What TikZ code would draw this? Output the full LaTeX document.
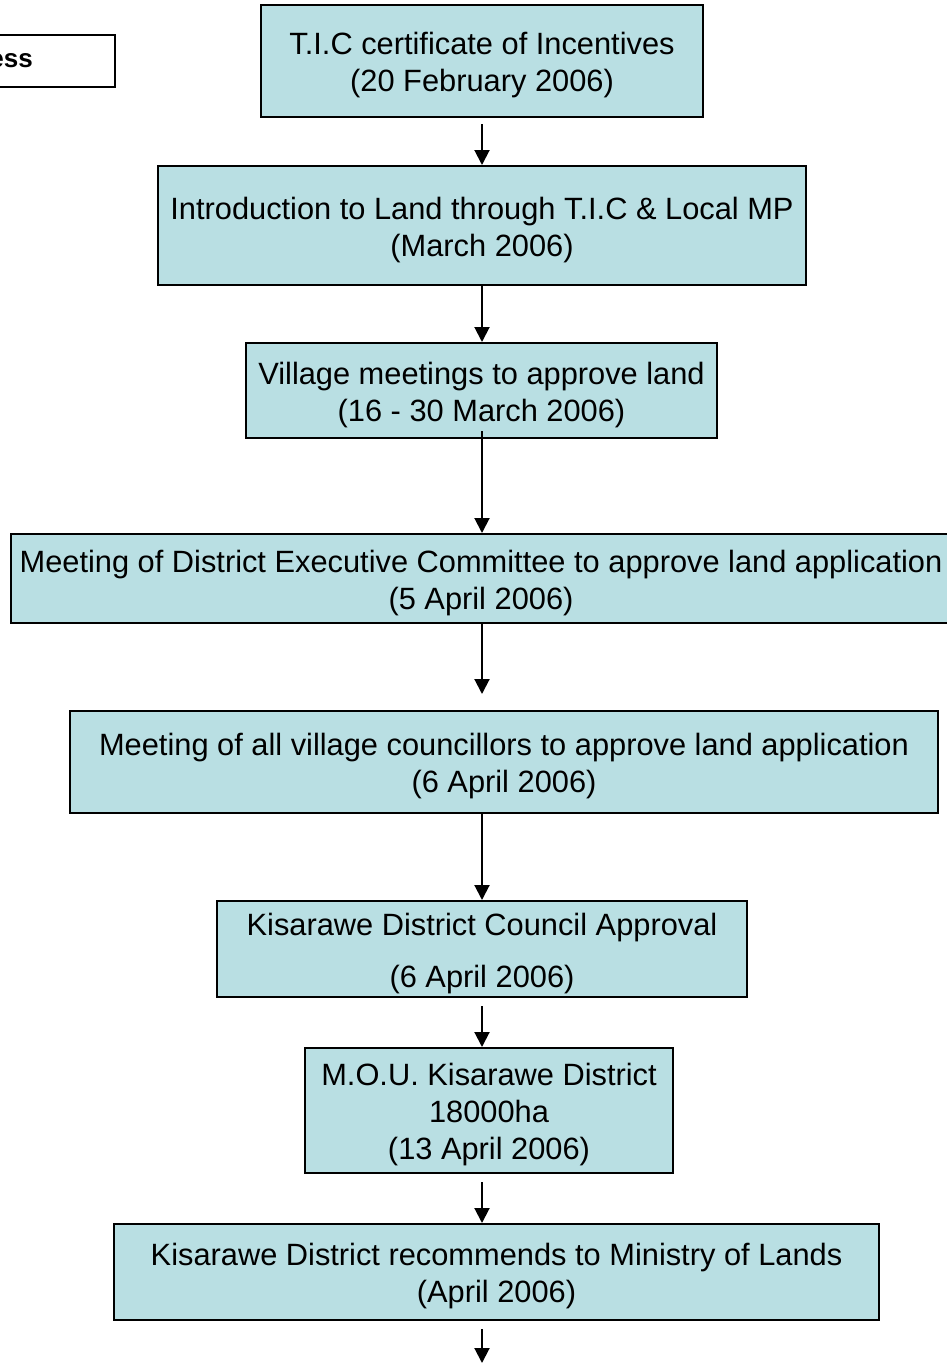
\documentclass[tikz,border=0pt]{standalone}
\usepackage{fontspec}
\setmainfont{Liberation Sans}
\usetikzlibrary{arrows.meta}
\newcommand{\stagetop}{\rule{0pt}{31pt}}

\begin{document}
\begin{tikzpicture}[x=1pt,y=-1pt,
		stage/.style={draw=black,line width=2pt,fill=stagefill,inner sep=0pt,align=center,
			font=\fontsize{30.8}{37}\selectfont},
		link/.style={line width=2pt,-{Triangle[length=15pt,width=15pt]}}]
		\definecolor{stagefill}{HTML}{B9DFE3}
		
		% Frame
		\useasboundingbox (0,0) rectangle (947,1363);
		\clip (0,0) rectangle (947,1363);
		
		% Title box (cut at the left edge)
		\draw[line width=2pt,fill=white] (-300,35) rectangle (115,87);
		\node[anchor=east,inner sep=0pt,font=\fontsize{26}{30}\bfseries\selectfont] (title) at (33,61) {ess};
		
		% Stages
		\node[stage,minimum width=442pt,minimum height=112pt] (tic) at (482,61) {\stagetop T.I.C certificate of Incentives\\(20 February 2006)};
		\node[stage,minimum width=648pt,minimum height=119pt] (intro) at (482,225.5) {\stagetop Introduction to Land through T.I.C \& Local MP\\(March 2006)};
		\node[stage,minimum width=471pt,minimum height=95pt] (village) at (481.5,390.5) {\stagetop Village meetings to approve land\\(16 - 30 March 2006)};
		\node[stage,minimum width=940pt,minimum height=89pt] (dec) at (481,578.5) {\stagetop Meeting of District Executive Committee to approve land application\\(5 April 2006)};
		\node[stage,minimum width=868pt,minimum height=102pt] (cllr) at (504,762) {\stagetop Meeting of all village councillors to approve land application\\(6 April 2006)};
		\node[stage,minimum width=530pt,minimum height=96pt] (council) at (482,949) {\stagetop Kisarawe District Council Approval\\[15pt](6 April 2006)};
		\node[stage,minimum width=368pt,minimum height=125pt] (mou) at (489,1110.5) {\stagetop M.O.U. Kisarawe District\\18000ha\\(13 April 2006)};
		\node[stage,minimum width=765pt,minimum height=96pt] (lands) at (496.5,1272) {\stagetop Kisarawe District recommends to Ministry of Lands\\(April 2006)};
		\coordinate (spine) at (482,1363);
		
		% Arrows
		\draw[link] ([yshift=-6pt]tic.south) -- (intro.north);
		\draw[link] (intro.south) -- (spine |- village.north);
		\draw[link] ([yshift=8pt]spine |- village.south) -- (spine |- dec.north);
		\draw[link] (spine |- dec.south) -- ([yshift=16pt]spine |- cllr.north);
		\draw[link] (spine |- cllr.south) -- (council.north);
		\draw[link] ([yshift=-8pt]council.south) -- (spine |- mou.north);
		\draw[link] ([yshift=-8pt]spine |- mou.south) -- (spine |- lands.north);
		\draw[link] ([yshift=-8pt]spine |- lands.south) -- (spine);
		
	\end{tikzpicture}
\end{document}
